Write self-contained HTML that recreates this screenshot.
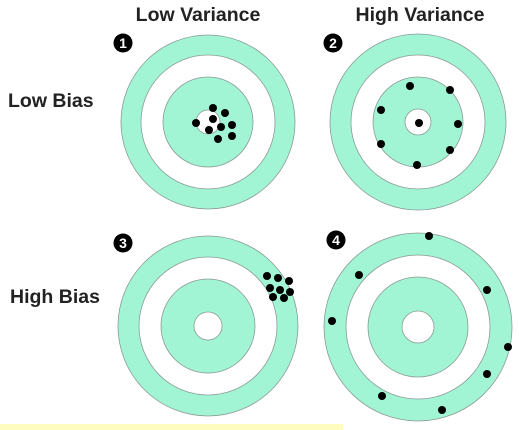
<!DOCTYPE html>
<html><head><meta charset="utf-8"><style>
html,body{margin:0;padding:0;background:#fff;width:519px;height:430px;overflow:hidden}
svg text{font-family:"Liberation Sans",sans-serif;font-weight:bold}
</style></head><body>
<svg id="c" width="519" height="430" viewBox="0 0 519 430">
<rect x="0" y="424" width="343" height="6" fill="#fffcc0"/>
<text x="198" y="21" font-size="19.5" text-anchor="middle" fill="#222">Low Variance</text>
<text x="420" y="21" font-size="19.5" text-anchor="middle" fill="#222">High Variance</text>
<text x="8" y="107" font-size="19.5" fill="#222">Low Bias</text>
<text x="10" y="303" font-size="19.5" fill="#222">High Bias</text>
</svg>
<script>
const targetCenters=[[208,122],[418,122],[208,326],[418,327]];
const radii=[[87,67,45,12],[88,67,45,13],[90,69,47,14],[94,72,50,16]];
const badges=[[123,43,"1"],[333,43,"2"],[123,243,"3"],[336,240,"4"]];
const dots1=[[213,108],[225,113],[213,119],[196,123],[232,125],[221,127],[209,130],[232,136],[218,139]];
const dots2=[[410,86],[450,90],[381,110],[419,123],[458,124],[381,144],[450,150],[417,165]];
const dots3=[[267,276],[278,278],[289,281],[270,288],[280,290],[290,292],[273,297],[284,298]];
const dots4=[[429,236],[359,275],[487,290],[332,321],[508,347],[487,374],[382,396],[442,410]];
const allDots=[dots1,dots2,dots3,dots4];
const svg=document.getElementById('c');
const NS='http://www.w3.org/2000/svg';
function mk(t,a){const e=document.createElementNS(NS,t);for(const k in a)e.setAttribute(k,a[k]);svg.appendChild(e);return e;}
const fills=['#a2f5d4','#fff','#a2f5d4','#fff'];
targetCenters.forEach((c,i)=>{
  radii[i].forEach((r,j)=>{
    const e=mk('circle',{cx:c[0],cy:c[1],r:r,fill:fills[j],stroke:'#8a9a94','stroke-width':0.8});
    
    
  });
  allDots[i].forEach((d,k)=>{
    const e=mk('circle',{cx:d[0],cy:d[1],r:4,fill:'#000'});
    
    
  });
});
badges.forEach(b=>{
  const e=mk('circle',{cx:b[0],cy:b[1],r:9.5,fill:'#000'});
  
  
  const t=mk('text',{x:b[0],y:b[1]+5,'font-size':14,'text-anchor':'middle',fill:'#fff'});
  t.textContent=b[2];
  
  
});
</script>
</body></html>
